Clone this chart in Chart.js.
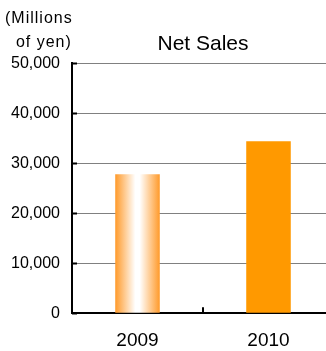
<!DOCTYPE html>
<html>
<head>
<meta charset="utf-8">
<script src="https://cdn.jsdelivr.net/npm/chart.js@4"></script>
<style>
  body { margin: 0; background: #fff; overflow: hidden; }
  #wrap { position: relative; width: 334px; height: 351px; overflow: hidden; }
  #unit { position: absolute; left: 5px; top: 6px; font: 16px "Liberation Sans", sans-serif; letter-spacing: 1px; line-height: 24px; color: #000; }
</style>
</head>
<body>
<div id="wrap">
  <canvas id="myChart" width="334" height="366"></canvas>
  <div id="unit">(Millions<br>&nbsp;&nbsp;of yen)</div>
</div>
<script>
const years = ["2009", "2010"];
const netSales = [27800, 34400];
const yTicks = [0, 10000, 20000, 30000, 40000, 50000];

const barShare = 0.34;

// 2009 bar gets the orange-white-orange shading, 2010 is flat orange
function barColor(ctx) {
    if (ctx.dataIndex !== 0) return "#ff9900";
    const chart = ctx.chart;
    const x = chart.scales.x;
    if (!chart.chartArea || !x) return;
    const w = x.width / years.length * barShare;
    const cx = x.getPixelForValue(ctx.dataIndex);
    if (!isFinite(cx) || !isFinite(w)) return;
    const g = chart.ctx.createLinearGradient(cx - w / 2, 0, cx + w / 2, 0);
    g.addColorStop(0, "#ff9a2a");
    g.addColorStop(0.45, "#ffffff");
    g.addColorStop(0.55, "#ffffff");
    g.addColorStop(1, "#ff9a2a");
    return g;
}

// short dark ticks inside the plot on the y axis, and one between the years
const tickMarks = {
    id: "tickMarks",
    afterDraw(chart) {
        const c = chart.ctx;
        const x = chart.scales.x;
        const y = chart.scales.y;
        c.save();
        c.strokeStyle = "#000";
        c.lineWidth = 2;
        c.beginPath();
        yTicks.forEach(v => {
            const py = Math.round(y.getPixelForValue(v)) + 0.5;
            c.moveTo(chart.chartArea.left, py);
            c.lineTo(chart.chartArea.left + 5, py);
        });
        const mid = (x.getPixelForValue(0) + x.getPixelForValue(1)) / 2;
        c.moveTo(mid, chart.chartArea.bottom);
        c.lineTo(mid, chart.chartArea.bottom - 6);
        c.stroke();
        c.restore();
    }
};

new Chart(document.getElementById("myChart"), {
    type: "bar",
    data: {
        labels: years,
        datasets: [{
            data: netSales,
            backgroundColor: barColor,
            categoryPercentage: 1,
            barPercentage: barShare
        }]
    },
    options: {
        responsive: false,
        animation: false,
        layout: { padding: { top: 0, right: 0, bottom: 6, left: 0 } },
        plugins: {
            legend: { display: false },
            tooltip: { enabled: false },
            title: {
                display: true,
                text: "Net Sales",
                fullSize: false,
                color: "#000",
                font: { family: "Liberation Sans", size: 21, weight: "normal" },
                padding: { top: 32, bottom: 6 }
            }
        },
        scales: {
            x: {
                grid: { display: false },
                border: { color: "#000", width: 2 },
                ticks: {
                    color: "#000",
                    padding: 8,
                    font: { family: "Liberation Sans", size: 19 }
                }
            },
            y: {
                min: 0,
                max: 50000,
                afterFit: s => { s.width = 72; },
                afterBuildTicks: s => { s.ticks = yTicks.map(v => ({ value: v })); },
                grid: { color: "#808080", lineWidth: 1, drawTicks: false },
                border: { color: "#000", width: 2 },
                ticks: {
                    color: "#000",
                    padding: 12,
                    font: { family: "Liberation Sans", size: 16 },
                    callback: v => v.toLocaleString("en-US")
                }
            }
        }
    },
    plugins: [tickMarks]
});
</script>
</body>
</html>
